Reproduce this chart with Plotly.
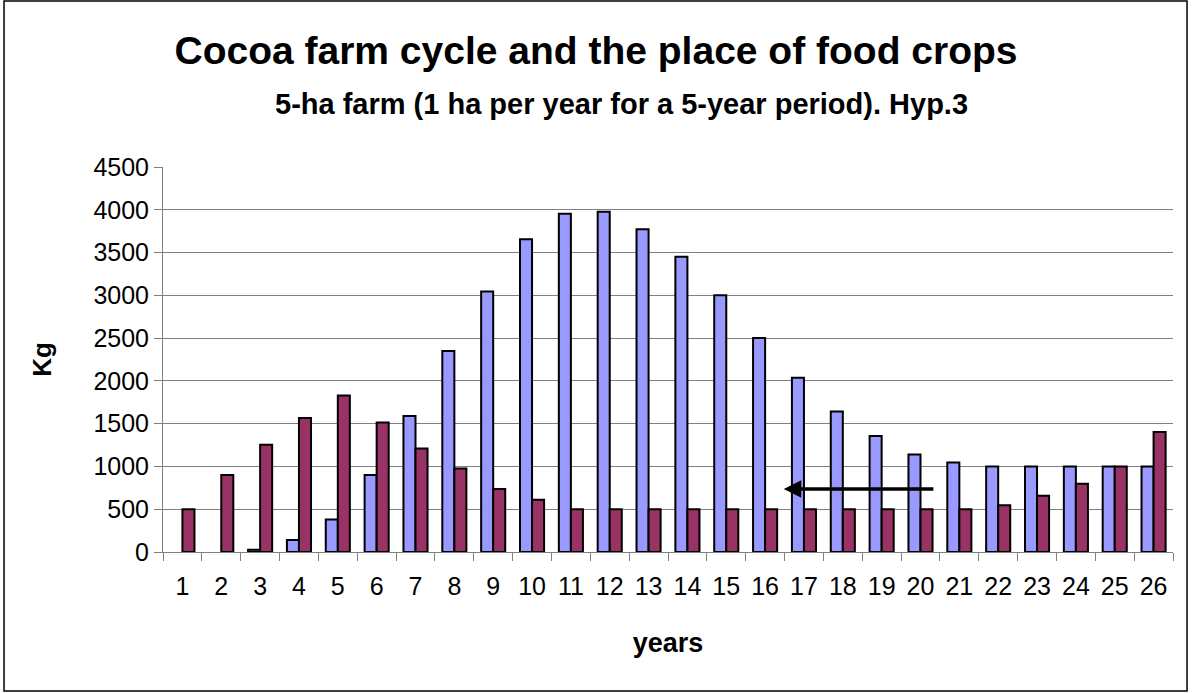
"""Cocoa farm cycle and the place of food crops — grouped bars."""

import plotly.graph_objects as go

YEARS = [str(i) for i in range(1, 27)]

# no cocoa harvest in years 1-2 (empty cells)
COCOA_KG = [
    None, None, 25, 140, 380, 900, 1590, 2350, 3045, 3655, 3955, 3978, 3772,
    3450, 3000, 2500, 2038, 1642, 1356, 1140, 1045, 1000, 1000, 1000, 1000, 1000,
]
FOOD_KG = [
    500, 900, 1255, 1565, 1830, 1515, 1210, 975, 735, 612, 500, 500, 500,
    500, 500, 500, 500, 500, 500, 500, 500, 545, 658, 797, 1000, 1404,
]

Y_TICKS = [0, 500, 1000, 1500, 2000, 2500, 3000, 3500, 4000, 4500]

# arrow from year 20 back to year 16 (category index, kg)
ARROW_TAIL = (19.37, 736)
ARROW_HEAD = (15.48, 736)

FONT = "Liberation Sans, Arial, sans-serif"

fig = go.Figure()

fig.add_trace(
    go.Bar(
        x=YEARS,
        y=COCOA_KG,
        name="Cocoa",
        marker=dict(color="#9999FF", line=dict(color="black", width=2)),
    )
)

fig.add_trace(
    go.Bar(
        x=YEARS,
        y=FOOD_KG,
        name="Food crops",
        marker=dict(color="#993366", line=dict(color="black", width=2)),
    )
)

fig.add_annotation(
    x=ARROW_HEAD[0],
    y=ARROW_HEAD[1],
    ax=ARROW_TAIL[0],
    ay=ARROW_TAIL[1],
    xref="x",
    yref="y",
    axref="x",
    ayref="y",
    text="",
    showarrow=True,
    arrowhead=2,
    arrowsize=1,
    arrowwidth=3.5,
    arrowcolor="black",
    standoff=0,
)

# subtitle
fig.add_annotation(
    x=0.4535,
    y=1.163,
    xref="paper",
    yref="paper",
    text="<b>5-ha farm (1 ha per year for a 5-year period). Hyp.3</b>",
    showarrow=False,
    font=dict(family=FONT, size=29, color="black"),
    xanchor="center",
    yanchor="middle",
)

# outer frame
fig.add_shape(
    type="rect",
    xref="paper",
    yref="paper",
    x0=-0.1574,
    x1=1.0139,
    y0=-0.361,
    y1=1.431,
    line=dict(color="black", width=1.5),
)

fig.update_layout(
    width=1192,
    height=693,
    barmode="group",
    bargap=0.38,
    bargroupgap=0,
    showlegend=False,
    paper_bgcolor="white",
    plot_bgcolor="white",
    font=dict(family=FONT, color="black"),
    title=dict(
        text="<b>Cocoa farm cycle and the place of food crops</b>",
        x=0.5,
        y=0.928,
        xref="container",
        yref="container",
        xanchor="center",
        yanchor="middle",
        font=dict(family=FONT, size=39, color="black"),
    ),
    xaxis=dict(
        type="category",
        tickson="boundaries",
        ticks="outside",
        ticklen=8,
        tickcolor="#808080",
        ticklabelstandoff=12,
        showline=True,
        linecolor="#808080",
        linewidth=1,
        showgrid=False,
        tickfont=dict(size=25, color="black"),
        title=dict(text="<b>years</b>", font=dict(size=27, color="black"), standoff=34),
    ),
    yaxis=dict(
        range=[0, 4500],
        tickvals=Y_TICKS,
        ticks="outside",
        ticklen=8,
        tickcolor="#808080",
        showline=True,
        linecolor="#808080",
        linewidth=1,
        showgrid=True,
        gridcolor="#808080",
        gridwidth=1,
        zeroline=False,
        tickfont=dict(size=25, color="black"),
        title=dict(text="<b>Kg</b>", font=dict(size=26, color="black"), standoff=34),
    ),
    margin=dict(l=163, r=19, t=167, b=141),
)

# drop the page's default body margin so the figure sits at the window origin
fig.write_html(
    "out.html",
    config={"displayModeBar": False},
    post_script="document.body.style.margin='0';",
)
